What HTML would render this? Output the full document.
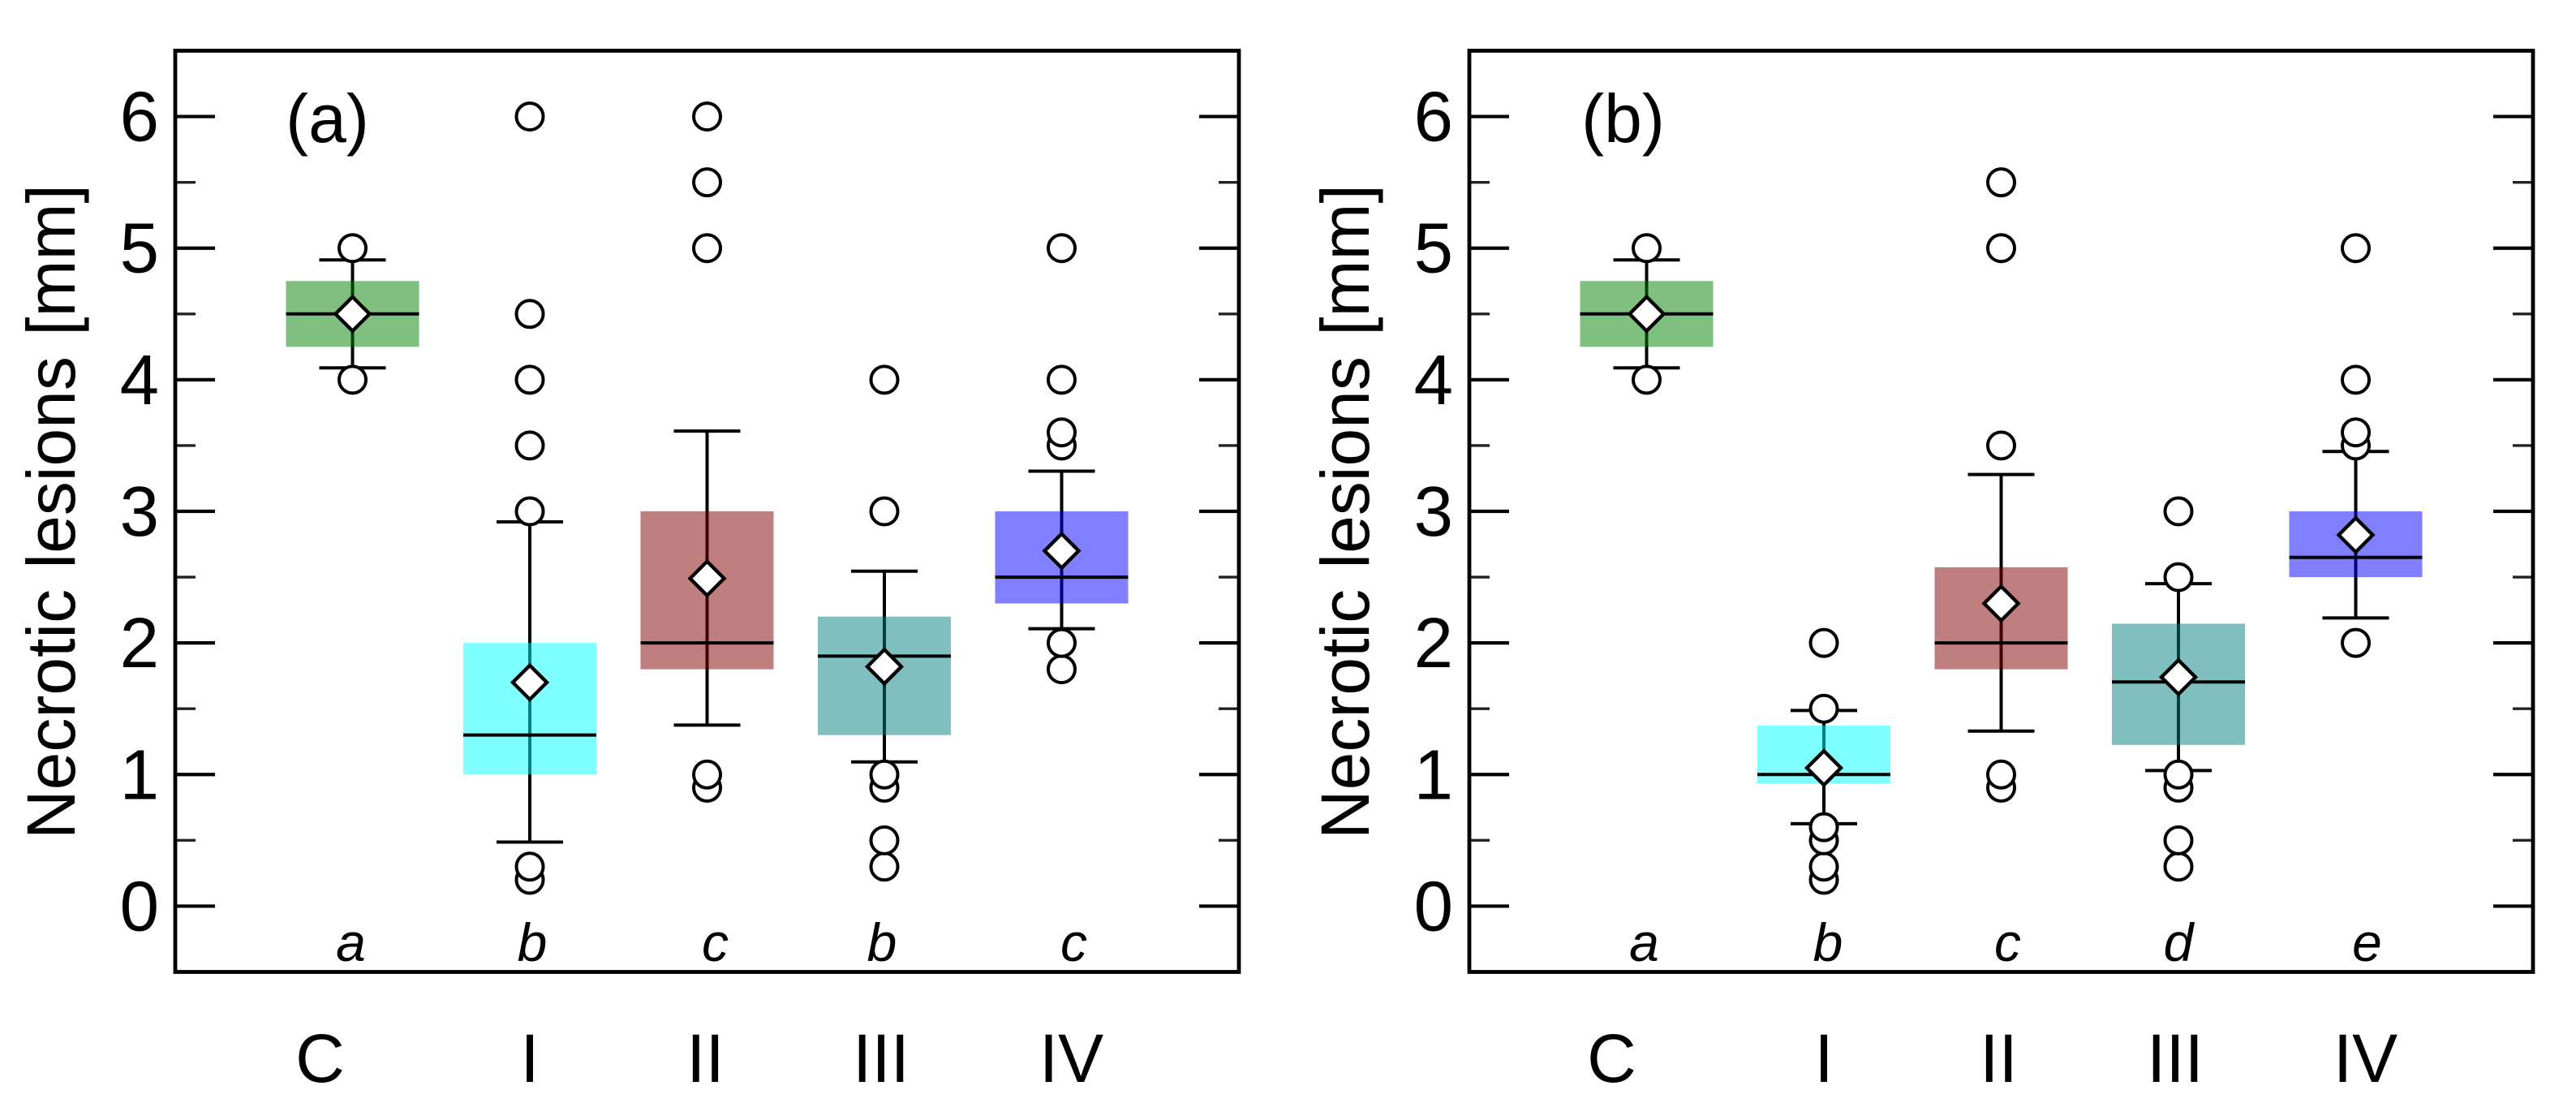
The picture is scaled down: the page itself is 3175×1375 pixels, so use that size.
<!DOCTYPE html>
<html lang="en">
<head>
<meta charset="utf-8">
<title>Necrotic lesions box plots</title>
<style>
  html, body { margin: 0; padding: 0; background: #fff; }
  svg { display: block; }
  text { font-family: "Liberation Sans", Arial, sans-serif; fill: #000; }
</style>
</head>
<body>
<svg id="chart" xmlns="http://www.w3.org/2000/svg" width="3175" height="1375" viewBox="0 0 3175 1375">
  <rect x="0" y="0" width="3175" height="1375" fill="#ffffff"/>
</svg>
<script>
// ---- Data ----
const categories = ['C', 'I', 'II', 'III', 'IV'];
const yMajorTicks = [0, 1, 2, 3, 4, 5, 6];
const yMinorTicks = [0.5, 1.5, 2.5, 3.5, 4.5, 5.5];
const yAxisTitle = 'Necrotic lesions [mm]';

const panelALabel = '(a)';
const panelAQ1 = [4.25, 1.0, 1.8, 1.3, 2.3];
const panelAQ3 = [4.75, 2.0, 3.0, 2.2, 3.0];
const panelAMedian = [4.5, 1.3, 2.0, 1.9, 2.5];
const panelAMean = [4.5, 1.7, 2.49, 1.82, 2.7];
const panelAWhiskerLow = [4.09, 0.487, 1.376, 1.096, 2.108];
const panelAWhiskerHigh = [4.91, 2.92, 3.61, 2.545, 3.305];
const panelAFliers = [
  [4, 5],
  [0.2, 0.3, 3, 3.5, 4, 4.5, 6],
  [0.9, 1, 5, 5.5, 6],
  [0.3, 0.5, 0.9, 1, 3, 4],
  [1.8, 2, 3.5, 3.6, 4, 5]
];
const panelALetters = ['a', 'b', 'c', 'b', 'c'];

const panelBLabel = '(b)';
const panelBQ1 = [4.25, 0.93, 1.8, 1.225, 2.5];
const panelBQ3 = [4.75, 1.373, 2.575, 2.146, 3.0];
const panelBMedian = [4.5, 1.0, 2.0, 1.703, 2.65];
const panelBMean = [4.5, 1.05, 2.3, 1.74, 2.82];
const panelBWhiskerLow = [4.09, 0.626, 1.33, 1.03, 2.19];
const panelBWhiskerHigh = [4.91, 1.487, 3.28, 2.45, 3.455];
const panelBFliers = [
  [4, 5],
  [0.2, 0.3, 0.5, 0.6, 1.5, 2],
  [0.9, 1, 3.5, 5, 5.5],
  [0.3, 0.5, 0.9, 1, 2.5, 3],
  [2, 3.5, 3.6, 4, 5]
];
const panelBLetters = ['a', 'b', 'c', 'd', 'e'];

// ---- Layout and style ----
const SVG_NS = 'http://www.w3.org/2000/svg';
const root = document.getElementById('chart');
const boxFills = ['rgba(0,128,0,0.5)', 'rgba(0,255,255,0.5)', 'rgba(128,0,0,0.5)', 'rgba(0,128,128,0.5)', 'rgba(0,0,255,0.5)'];
const PLOT_TOP = 62.5;
const PLOT_BOTTOM = 1197.5;
const Y_MIN = -0.5;
const Y_MAX = 6.5;
const X_UNIT = 218.5;
const FONT = 84;
const LINE = 4;

function yScale(v) {
  return PLOT_BOTTOM - (v - Y_MIN) / (Y_MAX - Y_MIN) * (PLOT_BOTTOM - PLOT_TOP);
}

function mk(tag, attrs, parent) {
  const el = document.createElementNS(SVG_NS, tag);
  for (const k in attrs) el.setAttribute(k, attrs[k]);
  parent.appendChild(el);
  return el;
}

function drawPanel(cfg) {
  const xScale = function (i) { return cfg.left + (i + 1) * X_UNIT; };
  const right = cfg.left + 6 * X_UNIT;

  const panel = mk('g', {}, root);
  
  

  // y ticks on both sides
  yMajorTicks.forEach(function (v) {
    const y = yScale(v);
    const tl = mk('line', { x1: cfg.left, x2: cfg.left + 49, y1: y, y2: y, stroke: '#000', 'stroke-width': 4.2 }, panel);
    
    
    const tr = mk('line', { x1: right - 49, x2: right, y1: y, y2: y, stroke: '#000', 'stroke-width': 4.2 }, panel);
    
    
    const lab = mk('text', { x: cfg.left - 20, y: y + 30, 'text-anchor': 'end', 'font-size': 87 }, panel);
    lab.textContent = String(v);
    
    
  });
  yMinorTicks.forEach(function (v) {
    const y = yScale(v);
    const tl = mk('line', { x1: cfg.left, x2: cfg.left + 25, y1: y, y2: y, stroke: '#222', 'stroke-width': 3.4 }, panel);
    
    
    const tr = mk('line', { x1: right - 25, x2: right, y1: y, y2: y, stroke: '#222', 'stroke-width': 3.4 }, panel);
    
    
  });

  // series marks
  categories.forEach(function (cat, i) {
    const cx = xScale(i);
    const group = mk('g', {}, panel);
    
    

    const stem = mk('line', { x1: cx, x2: cx, y1: yScale(cfg.whiskerHigh[i]), y2: yScale(cfg.whiskerLow[i]), stroke: '#000', 'stroke-width': LINE }, group);
    
    

    const capHigh = mk('line', { x1: cx - 41, x2: cx + 41, y1: yScale(cfg.whiskerHigh[i]), y2: yScale(cfg.whiskerHigh[i]), stroke: '#000', 'stroke-width': LINE }, group);
    
    

    const capLow = mk('line', { x1: cx - 41, x2: cx + 41, y1: yScale(cfg.whiskerLow[i]), y2: yScale(cfg.whiskerLow[i]), stroke: '#000', 'stroke-width': LINE }, group);
    
    

    const box = mk('rect', { x: cx - 82, width: 164, y: yScale(cfg.q3[i]), height: yScale(cfg.q1[i]) - yScale(cfg.q3[i]), fill: boxFills[i] }, group);
    
    

    const med = mk('line', { x1: cx - 82, x2: cx + 82, y1: yScale(cfg.median[i]), y2: yScale(cfg.median[i]), stroke: '#000', 'stroke-width': LINE }, group);
    
    

    cfg.fliers[i].forEach(function (v) {
      const c = mk('circle', { cx: cx, cy: yScale(v), r: 16.5, fill: '#fff', stroke: '#000', 'stroke-width': LINE }, group);
      
      
    });

    const my = yScale(cfg.mean[i]);
    const d = 21;
    const diamond = mk('polygon', {
      points: cx + ',' + (my - d) + ' ' + (cx + d) + ',' + my + ' ' + cx + ',' + (my + d) + ' ' + (cx - d) + ',' + my,
      fill: '#fff', stroke: '#000', 'stroke-width': 4.4
    }, group);
    
    

    const letter = mk('text', { x: cx + cfg.letterNudge[i], y: 1184, 'text-anchor': 'middle', 'font-size': 66, 'font-style': 'italic' }, group);
    letter.textContent = cfg.letters[i];
    
    

    const catLabel = mk('text', { x: cx + cfg.catNudge[i], y: 1333, 'text-anchor': 'middle', 'font-size': FONT }, panel);
    catLabel.textContent = cat;
    
    
  });

  // frame on top
  const frame = mk('rect', { x: cfg.left, y: PLOT_TOP, width: right - cfg.left, height: PLOT_BOTTOM - PLOT_TOP, fill: 'none', stroke: '#000', 'stroke-width': 4.8 }, panel);
  
  

  const panelLabel = mk('text', { x: cfg.left + cfg.labelOffset, y: 175, 'text-anchor': 'middle', 'font-size': FONT }, panel);
  panelLabel.textContent = cfg.label;
  
  

  const title = mk('text', { x: 0, y: 0, 'font-size': FONT, 'word-spacing': 2, transform: 'translate(' + (cfg.left - 124) + ',1034) rotate(-90)' }, panel);
  title.textContent = yAxisTitle;
  
  
}

drawPanel({
  left: 216, label: panelALabel, labelOffset: 187.5,
  q1: panelAQ1, q3: panelAQ3, median: panelAMedian, mean: panelAMean,
  whiskerLow: panelAWhiskerLow, whiskerHigh: panelAWhiskerHigh, fliers: panelAFliers, letters: panelALetters,
  letterNudge: [-2, 3, 10, -3, 15], catNudge: [-40, 0, -2, -4, 12]
});
drawPanel({
  left: 1811, label: panelBLabel, labelOffset: 189.5,
  q1: panelBQ1, q3: panelBQ3, median: panelBMedian, mean: panelBMean,
  whiskerLow: panelBWhiskerLow, whiskerHigh: panelBWhiskerHigh, fliers: panelBFliers, letters: panelBLetters,
  letterNudge: [-3, 5, 8, 0, 14], catNudge: [-43, 0, -3, -4, 12]
});
</script>
</body>
</html>
